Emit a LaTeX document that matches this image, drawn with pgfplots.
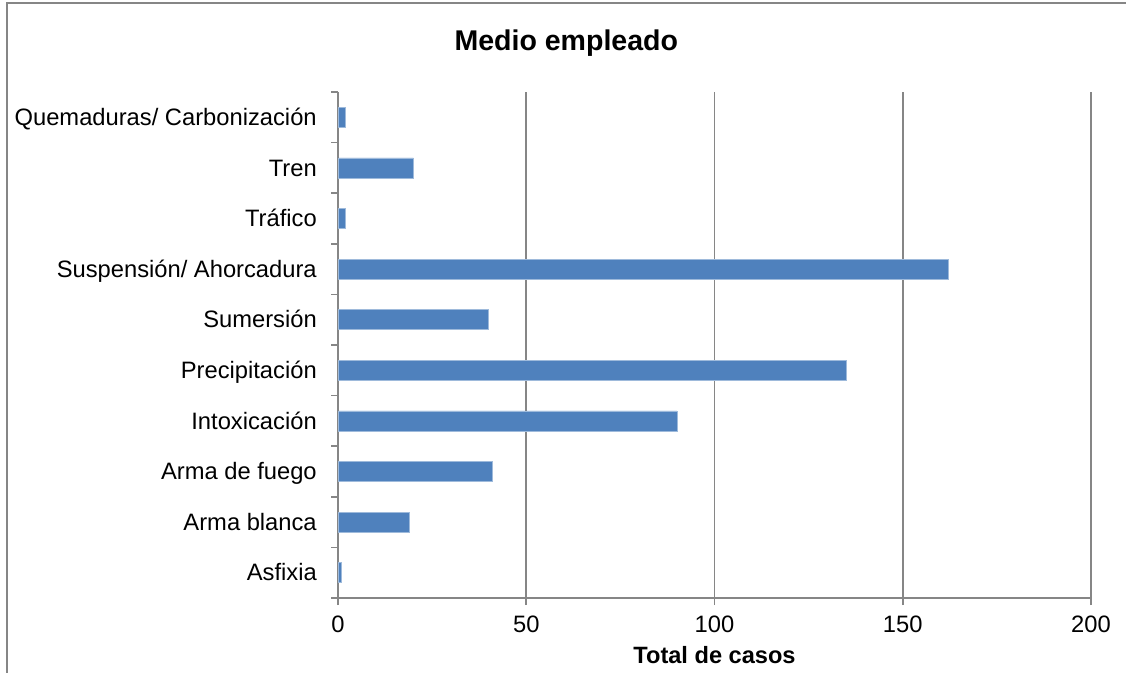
\documentclass[border=0pt]{standalone}
\usepackage{fontspec}
\setmainfont{Liberation Sans}
\usepackage{pgfplots}
\pgfplotsset{compat=1.18}
\definecolor{barblue}{HTML}{4F81BD}
\definecolor{axisgray}{HTML}{868686}

\begin{document}
\begin{tikzpicture}
  % page = 1126 x 672 px at 0.75pt per px
  \useasboundingbox (0,0) rectangle (844.5pt,504pt);
  \clip (0,0) rectangle (844.5pt,504pt);
  % chart frame (only left and top edges are visible)
  \draw[axisgray, line width=1pt] (5.25pt,-2pt) -- (5.25pt,501.75pt) -- (850pt,501.75pt);
  \node[anchor=base, inner sep=0pt, font=\fontsize{21.4}{25}\selectfont\bfseries]
    at (424.7pt,465.75pt) {Medio empleado};
  \begin{axis}[
      at={(253.5pt,55.5pt)}, anchor=south west,
      scale only axis, width=564.75pt, height=379.5pt,
      xbar, bar width=15pt,
      xmin=0, xmax=200, ymin=-0.5, ymax=9.5,
      xtick={0,50,100,150,200},
      ytick={0,...,9},
      yticklabels={Asfixia, Arma blanca, Arma de fuego, Intoxicación,
                   Precipitación, Sumersión, Suspensión/ Ahorcadura,
                   Tráfico, Tren, Quemaduras/ Carbonización},
      minor ytick={-0.5,0.5,...,9.5},
      axis x line*=bottom, axis y line*=left,
      axis line style={axisgray, line width=1.2pt, -},
      tick align=outside,
      major tick length=5.25pt, minor tick length=5.25pt,
      tick style={axisgray, line width=1.2pt},
      major y tick style={draw=none},
      xmajorgrids, grid style={axisgray, line width=1.2pt},
      ticklabel style={font=\fontsize{17.8}{21}\selectfont},
      /pgf/number format/assume math mode=true,
      yticklabel style={anchor=east, inner sep=0pt, xshift=-10.5pt,
                        yshift=-2.5pt, text height=0.72em, text depth=0pt},
      xticklabel style={anchor=north, inner sep=0pt, yshift=-8.25pt},
      xlabel={Total de casos},
      xlabel style={at={(axis description cs:0.5,0)}, anchor=base,
                    inner sep=0pt, yshift=-48.75pt,
                    font=\fontsize{17.7}{21}\selectfont\bfseries},
    ]
    \addplot[fill=barblue, draw=barblue!55!white, line width=0.5pt] coordinates {
      (1,0) (19,1) (41,2) (90,3) (135,4)
      (40,5) (162,6) (2,7) (20,8) (2,9)
    };
  \end{axis}
\end{tikzpicture}
\end{document}
